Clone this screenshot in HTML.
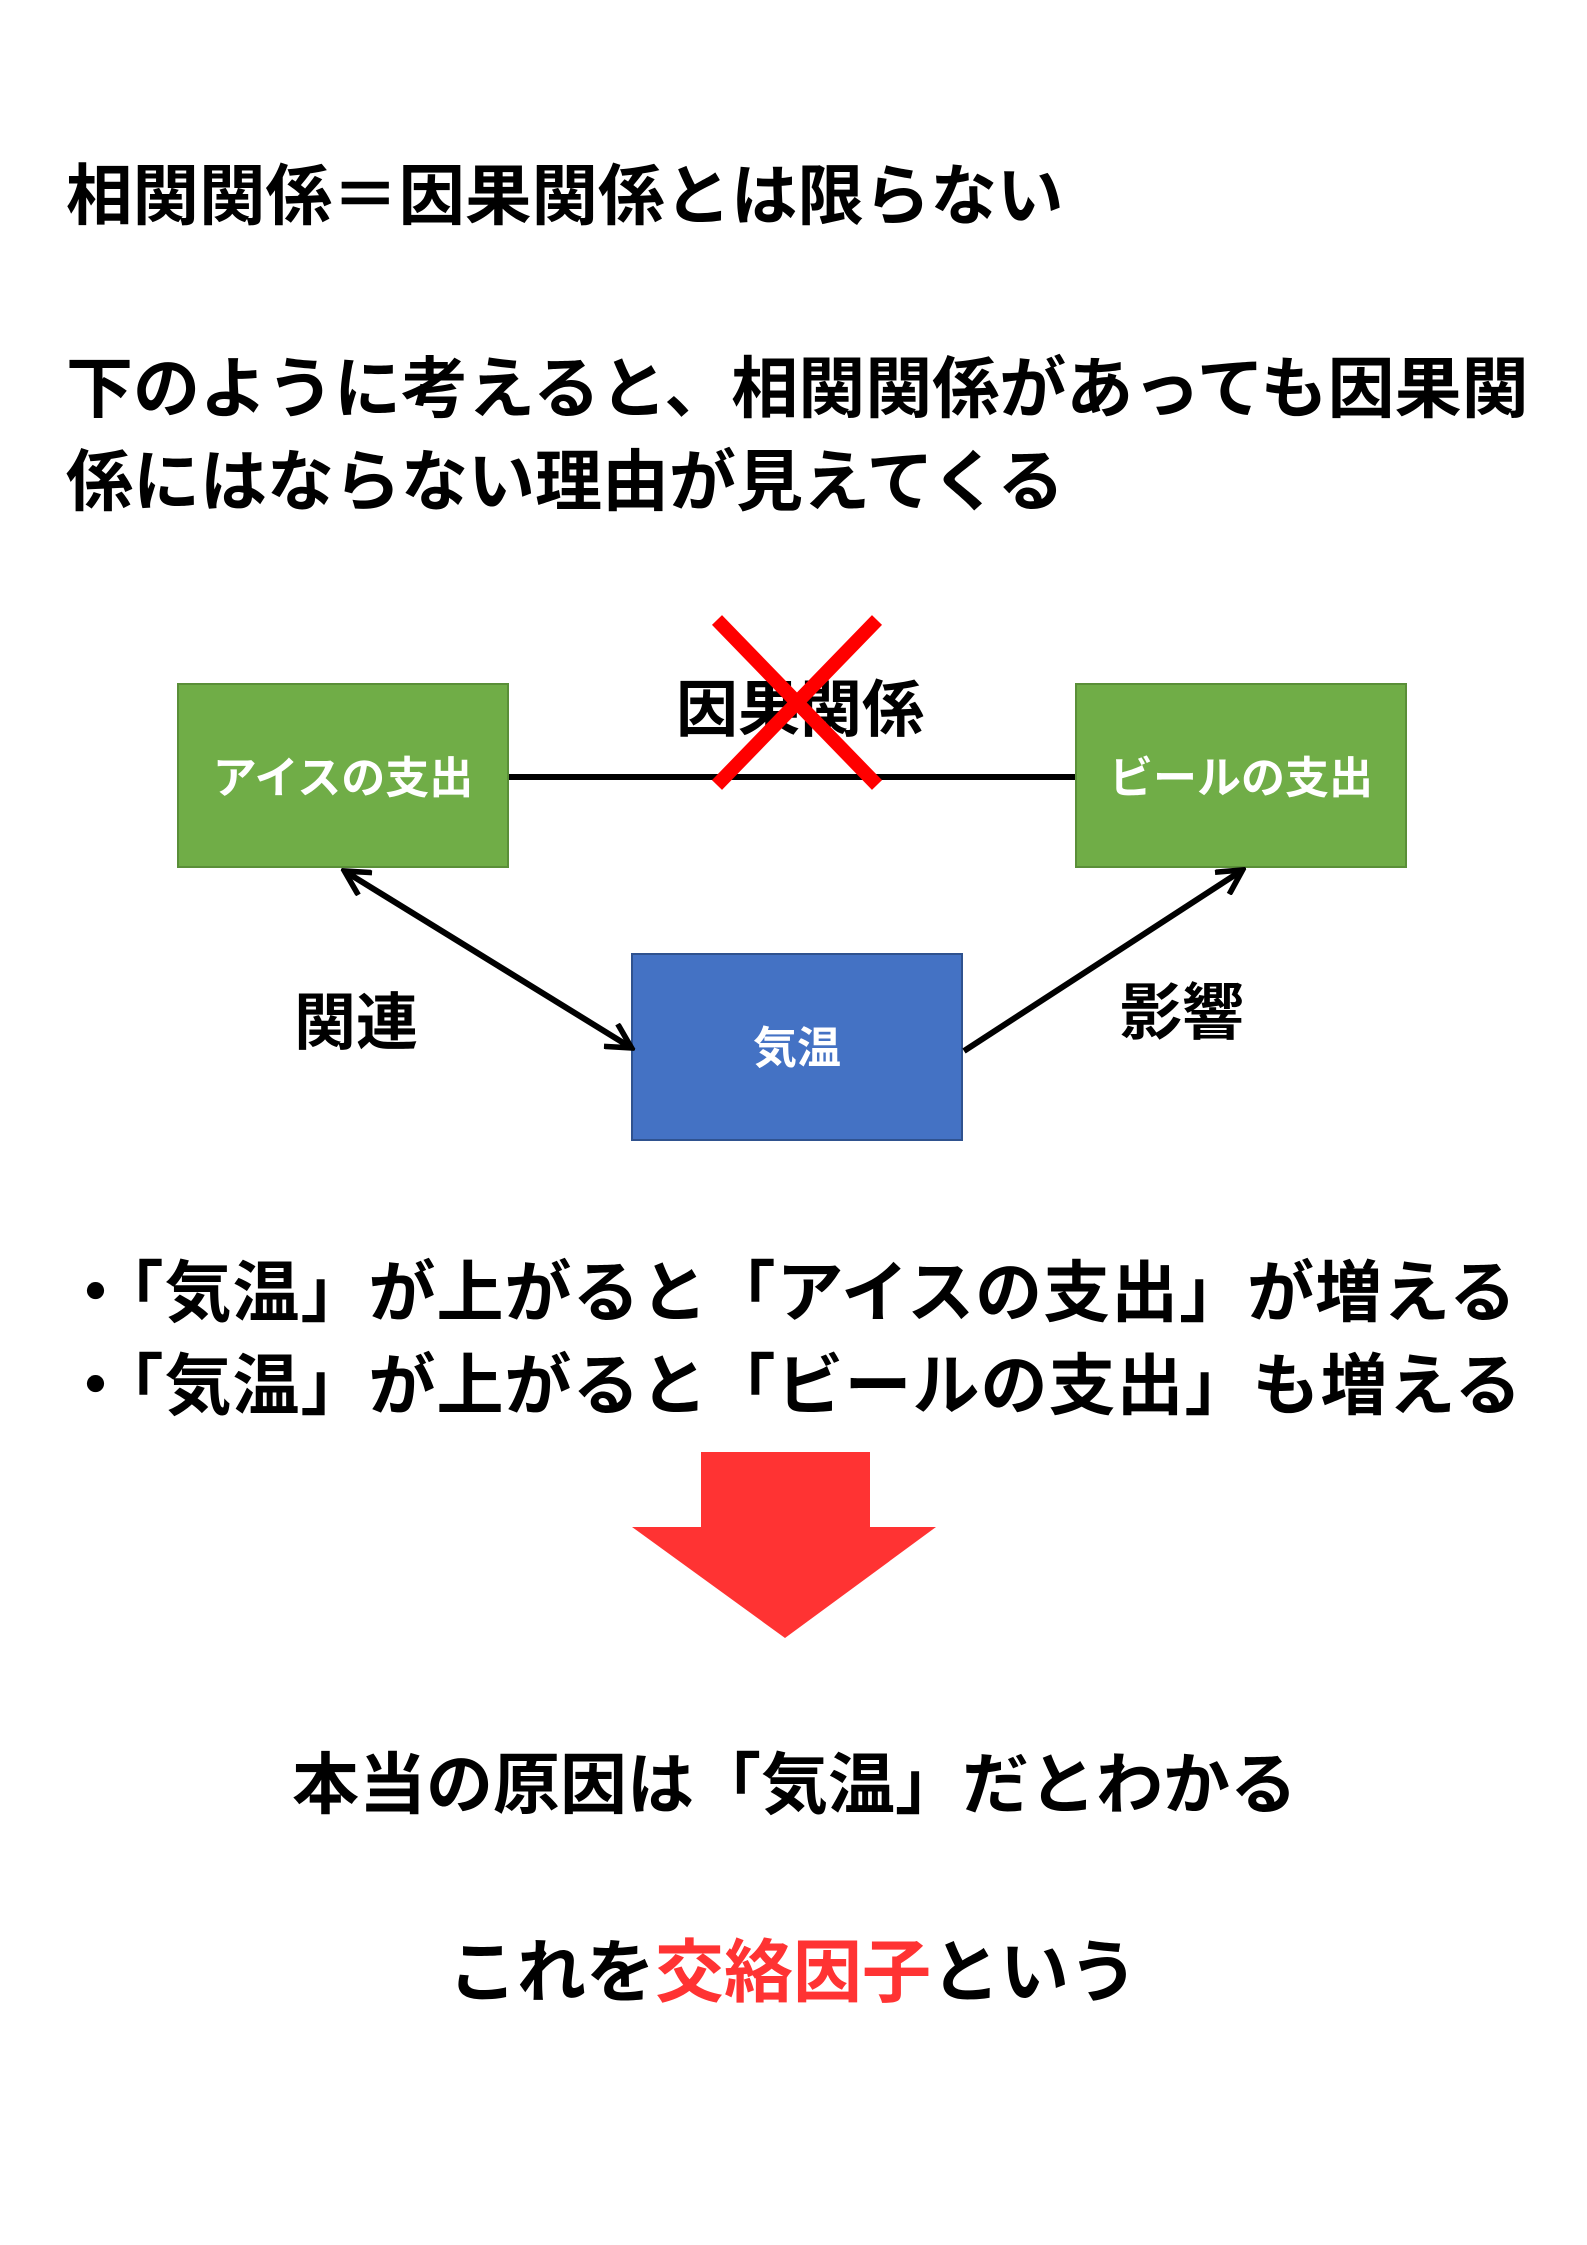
<!DOCTYPE html>
<html><head><meta charset="utf-8"><style>
html,body{margin:0;padding:0;background:#fff}
body{width:1587px;height:2245px;position:relative;overflow:hidden;font-family:"Liberation Sans","Noto Sans CJK JP",sans-serif;font-weight:bold;color:#000}
.t{position:absolute;white-space:nowrap;line-height:1;font-size:66px}
</style></head><body>
<div class="t" style="left:66px;top:164px;font-size:66.5px">相関関係＝因果関係とは限らない</div>
<div class="t" style="left:66px;top:356px;font-size:67px">下のように考えると、相関関係があっても因果関</div>
<div class="t" style="left:66px;top:449px;font-size:67px">係にはならない理由が見えてくる</div>

<svg style="position:absolute;left:0;top:0" width="1587" height="1200" viewBox="0 0 1587 1200">
<defs>
<marker id="ah" markerWidth="30" markerHeight="30" refX="13" refY="8" orient="auto" markerUnits="userSpaceOnUse" viewBox="0 0 16 16"><path d="M1,1 L14,8 L1,15" fill="none" stroke="#000" stroke-width="3"/></marker>
<marker id="ah2" markerWidth="30" markerHeight="30" refX="3" refY="8" orient="auto" markerUnits="userSpaceOnUse" viewBox="0 0 16 16"><path d="M15,1 L2,8 L15,15" fill="none" stroke="#000" stroke-width="3"/></marker>
</defs>
<line x1="508" y1="777" x2="1076" y2="777" stroke="#000" stroke-width="6"/>
<rect x="178" y="684" width="330" height="183" fill="#70ad47" stroke="#5a8f38" stroke-width="2"/>
<rect x="1076" y="684" width="330" height="183" fill="#70ad47" stroke="#5a8f38" stroke-width="2"/>
<rect x="632" y="954" width="330" height="186" fill="#4472c4" stroke="#2f528f" stroke-width="2"/>
<text x="343" y="793" font-size="44" fill="#fff" text-anchor="middle" font-family="Liberation Sans,Noto Sans CJK JP,sans-serif" font-weight="bold">アイスの支出</text>
<text x="1241" y="793" font-size="44" fill="#fff" text-anchor="middle" font-family="Liberation Sans,Noto Sans CJK JP,sans-serif" font-weight="bold">ビールの支出</text>
<text x="797" y="1063" font-size="44" fill="#fff" text-anchor="middle" font-family="Liberation Sans,Noto Sans CJK JP,sans-serif" font-weight="bold">気温</text>
<text x="800" y="731" font-size="62" fill="#000" text-anchor="middle" font-family="Liberation Sans,Noto Sans CJK JP,sans-serif">因果関係</text>
<text x="356" y="1044" font-size="62" fill="#000" text-anchor="middle" font-family="Liberation Sans,Noto Sans CJK JP,sans-serif">関連</text>
<text x="1182" y="1034" font-size="62" fill="#000" text-anchor="middle" font-family="Liberation Sans,Noto Sans CJK JP,sans-serif">影響</text>
<line x1="717" y1="620" x2="877" y2="785" stroke="#ff0000" stroke-width="14"/>
<line x1="877" y1="620" x2="717" y2="785" stroke="#ff0000" stroke-width="14"/>
<line x1="346" y1="872" x2="630" y2="1047" stroke="#000" stroke-width="6" marker-start="url(#ah2)" marker-end="url(#ah)"/>
<line x1="964" y1="1051" x2="1241" y2="871" stroke="#000" stroke-width="6" marker-end="url(#ah)"/>
</svg>

<div class="t" style="left:62px;top:1260px;font-size:67px;letter-spacing:1px">・「気温」が上がると「アイスの支出」が増える</div>
<div class="t" style="left:62px;top:1353px;font-size:67px;letter-spacing:1px">・「気温」が上がると「ビールの支出」も増える</div>

<svg style="position:absolute;left:0;top:1400px" width="1587" height="300">
<polygon points="701,52 870,52 870,127 936,127 785,238 632,127 701,127" fill="#ff3333"/>
</svg>

<div class="t" style="left:292px;top:1752px;font-size:67px">本当の原因は「気温」だとわかる</div>
<div class="t" style="left:448px;top:1938px;font-size:69px">これを<span style="color:#ff3333">交絡因子</span>という</div>
</body></html>
